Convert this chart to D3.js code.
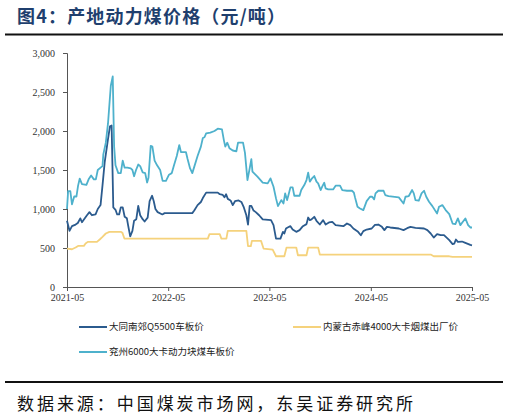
<!DOCTYPE html>
<html>
<head>
<meta charset="utf-8">
<script src="https://cdn.jsdelivr.net/npm/d3@7"></script>
<style>
  body { margin: 0; background: #fff; }
  svg { display: block; }
</style>
</head>
<body>
<svg id="chart" width="509" height="417"></svg>
<script>
// series: [date, value]
const datong = [
  ["2021-05-01",850],["2021-05-10",720],["2021-05-19",780],["2021-06-01",800],["2021-06-09",820],
  ["2021-06-18",880],["2021-06-24",830],["2021-07-12",920],["2021-07-21",960],["2021-07-30",920],
  ["2021-08-12",930],["2021-08-20",1000],["2021-08-30",1050],["2021-09-06",1300],["2021-09-14",1600],
  ["2021-09-26",1900],["2021-10-03",2060],["2021-10-09",2070],["2021-10-15",1020],["2021-10-23",990],
  ["2021-10-29",930],["2021-11-05",930],["2021-11-11",1020],["2021-11-18",1020],["2021-11-25",900],
  ["2021-12-03",880],["2021-12-08",780],["2021-12-15",650],["2021-12-23",720],["2021-12-29",850],
  ["2022-01-06",870],["2022-01-13",1040],["2022-01-20",920],["2022-01-29",870],["2022-02-05",840],
  ["2022-02-16",890],["2022-02-23",1100],["2022-03-04",1170],["2022-03-10",1100],["2022-03-16",1000],
  ["2022-03-24",960],["2022-04-10",930],["2022-04-18",947],["2022-07-27",947],["2022-08-03",980],
  ["2022-08-15",1050],["2022-08-27",1090],["2022-09-03",1140],["2022-09-15",1210],["2022-10-27",1210],
  ["2022-11-03",1190],["2022-11-14",1180],["2022-11-20",1150],["2022-11-26",1190],["2022-12-02",1130],
  ["2022-12-12",1110],["2022-12-20",1050],["2022-12-28",1100],["2023-01-10",1110],["2023-01-20",1090],
  ["2023-01-29",1020],["2023-02-07",920],["2023-02-13",800],["2023-02-19",1040],["2023-02-25",1040],
  ["2023-03-05",980],["2023-03-13",960],["2023-03-25",920],["2023-04-07",866],["2023-05-07",857],
  ["2023-05-16",793],["2023-05-25",621],["2023-06-10",621],["2023-06-19",707],["2023-06-24",686],
  ["2023-06-30",750],["2023-07-06",763],["2023-07-16",780],["2023-07-24",737],["2023-08-06",707],
  ["2023-08-18",729],["2023-08-30",780],["2023-09-12",806],["2023-09-18",891],["2023-09-24",857],
  ["2023-09-30",866],["2023-10-10",900],["2023-10-18",849],["2023-10-30",801],["2023-11-11",857],
  ["2023-11-20",801],["2023-12-02",827],["2023-12-14",836],["2023-12-26",793],["2024-01-23",780],
  ["2024-02-05",814],["2024-02-17",793],["2024-02-28",750],["2024-03-16",707],["2024-03-26",664],
  ["2024-04-04",716],["2024-04-16",737],["2024-05-04",750],["2024-05-16",797],["2024-05-28",801],
  ["2024-06-10",771],["2024-06-19",729],["2024-06-28",771],["2024-07-10",763],["2024-08-10",750],
  ["2024-08-27",729],["2024-09-09",754],["2024-09-21",771],["2024-10-09",759],["2024-11-09",750],
  ["2024-11-21",729],["2024-12-03",686],["2024-12-14",634],["2024-12-26",677],["2025-01-08",664],
  ["2025-01-20",664],["2025-02-08",600],["2025-02-20",549],["2025-02-26",557],["2025-03-04",609],
  ["2025-03-11",579],["2025-03-26",583],["2025-04-07",566],["2025-04-25",540],["2025-05-01",535]
];

const chifeng = [
  ["2021-05-01",493],["2021-05-19",484],["2021-06-01",506],["2021-06-10",527],["2021-07-01",527],
  ["2021-07-07",557],["2021-07-15",579],["2021-08-17",579],["2021-08-27",609],["2021-09-06",643],
  ["2021-09-18",686],["2021-10-01",707],["2021-11-11",707],["2021-11-17",694],["2021-11-24",621],
  ["2022-09-21",621],["2022-09-27",677],["2022-11-03",677],["2022-11-09",621],["2022-11-27",621],
  ["2022-12-02",720],["2023-02-07",720],["2023-02-13",523],["2023-02-23",523],["2023-02-27",591],
  ["2023-04-01",591],["2023-04-10",493],["2023-05-13",480],["2023-05-25",394],["2023-06-24",394],
  ["2023-07-02",506],["2023-08-06",506],["2023-08-12",407],["2023-09-12",407],["2023-09-18",506],
  ["2023-10-24",506],["2023-10-30",416],["2024-12-03",416],["2024-12-14",394],["2025-02-08",394],
  ["2025-02-20",386],["2025-05-01",386]
];

const yanzhou = [
  ["2021-05-01",1000],["2021-05-05",1230],["2021-05-13",1230],["2021-05-19",1060],["2021-05-27",1160],
  ["2021-06-04",1160],["2021-06-10",1300],["2021-06-16",1390],["2021-06-24",1320],["2021-07-10",1310],
  ["2021-07-18",1380],["2021-07-27",1430],["2021-08-06",1380],["2021-08-13",1380],["2021-08-20",1500],
  ["2021-08-30",1530],["2021-09-06",1550],["2021-09-09",1700],["2021-09-18",1850],["2021-09-26",2100],
  ["2021-10-06",2580],["2021-10-13",2700],["2021-10-18",1800],["2021-10-23",1560],["2021-11-02",1460],
  ["2021-11-11",1460],["2021-11-18",1620],["2021-11-25",1530],["2021-12-05",1530],["2021-12-17",1520],
  ["2021-12-23",1500],["2021-12-29",1420],["2022-01-05",1500],["2022-01-13",1570],["2022-01-20",1550],
  ["2022-01-29",1470],["2022-02-07",1460],["2022-02-14",1340],["2022-02-19",1400],["2022-02-27",1810],
  ["2022-03-05",1800],["2022-03-13",1620],["2022-03-22",1560],["2022-04-02",1500],["2022-04-11",1360],
  ["2022-04-23",1360],["2022-05-04",1440],["2022-05-14",1460],["2022-05-22",1560],["2022-06-01",1680],
  ["2022-06-10",1820],["2022-06-16",1730],["2022-07-04",1730],["2022-07-10",1640],["2022-07-19",1520],
  ["2022-07-27",1460],["2022-08-03",1540],["2022-08-15",1680],["2022-08-27",1800],["2022-09-03",1910],
  ["2022-09-09",1920],["2022-09-15",1970],["2022-09-30",1980],["2022-10-15",2000],["2022-10-27",2030],
  ["2022-11-11",2020],["2022-11-18",1880],["2022-11-23",1800],["2022-11-30",1850],["2022-12-08",1780],
  ["2022-12-20",1750],["2023-01-02",1740],["2023-01-08",1850],["2023-01-26",1850],["2023-02-02",1720],
  ["2023-02-11",1370],["2023-02-19",1520],["2023-02-25",1640],["2023-03-01",1480],["2023-03-19",1414],
  ["2023-04-07",1337],["2023-04-25",1329],["2023-05-05",1393],["2023-05-16",1286],["2023-05-25",1136],
  ["2023-06-01",1037],["2023-06-13",1114],["2023-06-21",1071],["2023-06-27",1200],["2023-07-04",1114],
  ["2023-07-09",1179],["2023-07-16",1277],["2023-07-24",1277],["2023-07-30",1170],["2023-08-18",1170],
  ["2023-08-24",1243],["2023-09-04",1307],["2023-09-12",1371],["2023-09-18",1466],["2023-09-24",1350],
  ["2023-10-02",1393],["2023-10-10",1423],["2023-10-18",1350],["2023-10-24",1329],["2023-11-02",1243],
  ["2023-11-08",1290],["2023-11-15",1337],["2023-11-20",1264],["2023-11-29",1251],["2023-12-17",1251],
  ["2023-12-26",1299],["2024-01-11",1299],["2024-01-19",1243],["2024-02-05",1234],["2024-02-23",1234],
  ["2024-03-01",1209],["2024-03-05",1149],["2024-03-14",1029],["2024-03-23",1007],["2024-04-04",986],
  ["2024-04-16",1101],["2024-04-28",1157],["2024-05-06",1157],["2024-05-13",1123],["2024-05-18",1200],
  ["2024-05-28",1234],["2024-06-16",1234],["2024-06-22",1179],["2024-07-04",1166],["2024-08-10",1149],
  ["2024-08-27",1071],["2024-09-03",1157],["2024-09-15",1166],["2024-09-27",1243],["2024-10-03",1200],
  ["2024-10-09",1114],["2024-10-21",1106],["2024-10-31",1200],["2024-11-09",1234],["2024-11-17",1157],
  ["2024-11-27",1093],["2024-12-09",1037],["2024-12-18",986],["2024-12-26",943],["2025-01-02",1029],
  ["2025-01-14",1050],["2025-01-26",986],["2025-02-08",934],["2025-02-20",814],["2025-03-02",806],
  ["2025-03-11",879],["2025-03-20",793],["2025-03-29",836],["2025-04-07",879],["2025-04-17",793],
  ["2025-04-25",763],["2025-05-01",763]
];

const seriesNames = ["大同南郊Q5500车板价", "内蒙古赤峰4000大卡烟煤出厂价", "兖州6000大卡动力块煤车板价"];
const seriesColors = ["#2b5b8e", "#f5d27c", "#4eb1cc"];
const xTickLabels = ["2021-05", "2022-05", "2023-05", "2024-05", "2025-05"];
const yTicks = [0, 500, 1000, 1500, 2000, 2500, 3000];

const titleText = "图4：产地动力煤价格（元/吨）";
const sourceText = "数据来源：中国煤炭市场网，东吴证券研究所";

const parse = d3.timeParse("%Y-%m-%d");
const parseMonth = d3.timeParse("%Y-%m");

const svg = d3.select("#chart");

const plot = {left: 67, right: 472, top: 53, bottom: 287};

let x = d3.scaleTime()
  .domain([parseMonth(xTickLabels[0]), parseMonth(xTickLabels[xTickLabels.length-1])])
  .range([plot.left, plot.right]);

let y = d3.scaleLinear()
  .domain([0, 3000])
  .range([plot.bottom, plot.top]);

// title and rules
svg.append("text")
  .attr("x", 17)
  .attr("y", 23)
  .attr("fill", "#1f3f6e")
  .style("font-family", "'Noto Sans CJK SC', sans-serif")
  .style("font-weight", "bold")
  .style("font-size", "18px")
  .attr("textLength", 268)
  .text(titleText);

svg.append("line")
  .attr("x1", 5).attr("x2", 503)
  .attr("y1", 34.5).attr("y2", 34.5)
  .attr("stroke", "#111").attr("stroke-width", 2);

svg.append("line")
  .attr("x1", 5).attr("x2", 503)
  .attr("y1", 382).attr("y2", 382)
  .attr("stroke", "#111").attr("stroke-width", 2);

svg.append("text")
  .attr("x", 17)
  .attr("y", 410)
  .attr("fill", "#111")
  .style("font-family", "'Noto Sans CJK SC', sans-serif")
  .style("font-size", "17px")
  .attr("textLength", 396)
  .text(sourceText);

// axes
const yAxis = d3.axisLeft(y)
  .tickValues(yTicks)
  .tickFormat(d3.format(","))
  .tickSize(4)
  .tickPadding(8);

const xAxis = d3.axisBottom(x)
  .tickValues(xTickLabels.map(parseMonth))
  .tickFormat(d3.timeFormat("%Y-%m"))
  .tickSize(4)
  .tickPadding(3);

const gy = svg.append("g")
  .attr("transform", `translate(${plot.left},0)`)
  .call(yAxis);

const gx = svg.append("g")
  .attr("transform", `translate(0,${plot.bottom})`)
  .call(xAxis);

[gx, gy].forEach(function(g) {
  g.select(".domain").attr("stroke", "#555");
  g.selectAll(".tick line").attr("stroke", "#555");
  g.selectAll("text")
    .attr("fill", "#333")
    .style("font-family", "'Liberation Serif', serif")
    .style("font-size", "10px");
});

// lines
const line = d3.line()
  .x(function(d) { return x(parse(d[0])); })
  .y(function(d) { return y(d[1]); });

const allSeries = [datong, chifeng, yanzhou];

svg.append("g")
  .selectAll("path")
  .data(allSeries)
  .join("path")
  .attr("d", line)
  .attr("fill", "none")
  .attr("stroke", function(d, i) { return seriesColors[i]; })
  .attr("stroke-width", 1.8)
  .attr("stroke-linejoin", "round");

// legend
const legendPos = [[79, 327], [293, 327], [79, 352]];

const legend = svg.append("g")
  .selectAll("g")
  .data(seriesNames)
  .join("g")
  .attr("transform", function(d, i) { return `translate(${legendPos[i]})`; });

legend.append("line")
  .attr("x1", 0).attr("x2", 28)
  .attr("stroke", function(d, i) { return seriesColors[i]; })
  .attr("stroke-width", 2);

legend.append("text")
  .attr("x", 30)
  .attr("dy", "0.35em")
  .attr("fill", "#222")
  .style("font-family", "'Noto Sans CJK SC', sans-serif")
  .style("font-size", "9.5px")
  .text(function(d) { return d; });
</script>
</body>
</html>
